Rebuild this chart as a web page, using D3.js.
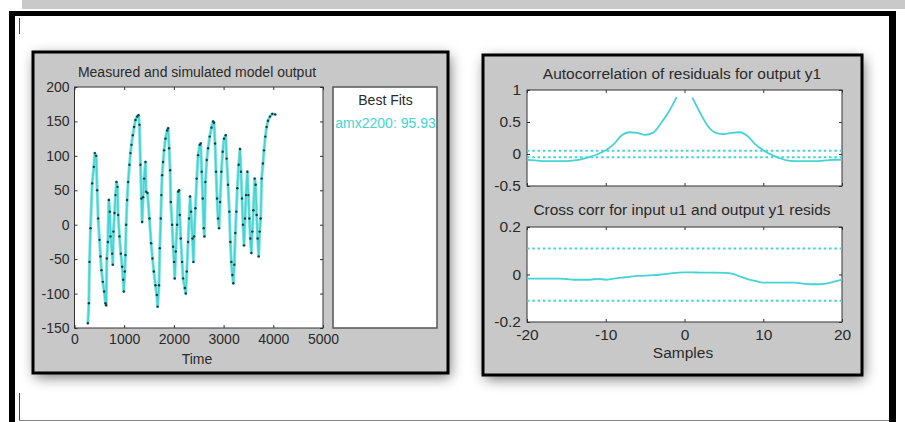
<!DOCTYPE html>
<html>
<head>
<meta charset="utf-8">
<script src="https://cdn.jsdelivr.net/npm/d3@7"></script>
<style>
  body { margin: 0; background: #fff; }
  svg { display: block; font-family: "Liberation Sans", Arial, Helvetica, sans-serif; }
</style>
</head>
<body>
<svg id="chart" width="905" height="422"></svg>
<script>
// ---- Data -------------------------------------------------------------
// Measured / simulated model output over time
const timeSamples = [
  269, 289, 302, 322, 356, 389, 409, 436, 456, 476, 503, 523, 543, 570, 597, 624, 637,
  651, 671, 691, 711, 724, 758, 771, 784, 805, 825, 845, 865, 878, 905, 932, 959, 979, 992,
  1012, 1026, 1039, 1059, 1079, 1106, 1126, 1146, 1173, 1200, 1227, 1260, 1287, 1307, 1327,
  1347, 1361, 1381, 1401, 1428, 1441, 1468, 1508, 1542, 1569, 1596, 1629, 1656, 1672, 1700,
  1716, 1736, 1749, 1763, 1783, 1803, 1830, 1864, 1884, 1904, 1924, 1937, 1964, 1984, 2004,
  2017, 2038, 2064, 2085, 2105, 2118, 2138, 2165, 2185, 2219, 2239, 2259, 2286, 2306, 2326,
  2346, 2373, 2393, 2407, 2433, 2460, 2487, 2520, 2540, 2560, 2581, 2601, 2614, 2634, 2661,
  2688, 2721, 2755, 2788, 2808, 2828, 2848, 2868, 2888, 2909, 2929, 2955, 2982, 3009, 3042,
  3062, 3089, 3116, 3136, 3156, 3176, 3196, 3216, 3236, 3256, 3276, 3303, 3330, 3350, 3370,
  3390, 3411, 3431, 3451, 3478, 3498, 3518, 3538, 3558, 3578, 3599, 3625, 3645, 3665, 3685,
  3706, 3726, 3746, 3766, 3792, 3813, 3840, 3866, 3893, 3933, 3980, 4040
];
const outputValues = [
  -143, -114, -54, -5, 60, 84, 104, 100, 50, 9, -22, -46, -66, -83, -97, -114, -117,
  -49, -25, 36, 19, -17, -42, -58, -10, 17, 43, 62, 55, 14, -17, -42, -61, -80, -97,
  -68, -44, 0, 36, 62, 87, 104, 116, 130, 142, 152, 157, 159, 145, 87,
  38, 4, 40, 67, 91, 48, 46, 9, -27, -49, -68, -88, -102, -119, -88,
  -34, 9, 43, 72, 91, 108, 125, 137, 140, 111, 79, 33, 0, -32, -54,
  -78, -39, 0, 48, 50, 14, -20, -54, -78, -92, -100, -68, -25, 9, 41,
  19, -20, -54, -17, 24, 67, 101, 116, 118, 77, 38, -5, -17, 62, 94,
  111, 128, 141, 150, 148, 118, 77, 38, 9, -5, 33, 77, 106, 125, 130,
  96, 58, 19, -25, -54, -73, -85, -58, -12, 19, 53, 87, 110, 77, 38,
  0, -30, 9, 43, 77, 43, 9, -20, -41, -10, 21, 67, 58, 14, -20,
  -46, -10, 9, 67, 89, 108, 128, 142, 151, 157, 161, 160
];
const timeTicks = [0, 1000, 2000, 3000, 4000, 5000];
const outputTicks = [-150, -100, -50, 0, 50, 100, 150, 200];
const fitLabel = "amx2200: 95.93";

// Residual correlation analysis, lags -20..20
const lags = d3.range(-20, 21);
const autoCorr = [
  -0.09, -0.10, -0.11, -0.11, -0.11, -0.11, -0.10, -0.08, -0.045, 0.0,
  0.06, 0.15, 0.29, 0.34, 0.33, 0.30, 0.33, 0.48, 0.66, 0.89,
  null,
  0.88, 0.64, 0.43, 0.33, 0.31, 0.33, 0.34, 0.28, 0.15, 0.06,
  -0.01, -0.06, -0.10, -0.11, -0.11, -0.11, -0.11, -0.10, -0.09, -0.09
];
const autoConf = 0.052;
const crossCorr = [
  -0.017, -0.017, -0.017, -0.017, -0.017, -0.019, -0.022, -0.022, -0.022, -0.018,
  -0.022, -0.017, -0.013, -0.01, -0.006, -0.005, -0.003, 0.0, 0.004, 0.007,
  0.009, 0.009, 0.008, 0.008, 0.008, 0.007, 0.004, -0.008, -0.019, -0.027,
  -0.034, -0.034, -0.034, -0.034, -0.034, -0.038, -0.041, -0.041, -0.038, -0.03, -0.022
];
const crossConf = 0.11;
const lagTicks = [-20, -10, 0, 10, 20];
const autoTicks = [-0.5, 0, 0.5, 1];
const crossTicks = [-0.2, 0, 0.2];

// ---- Drawing -----------------------------------------------------------
const svg = d3.select("#chart");
const cyan = "#45d3d3";
const panelGray = "#c8c8c8";
const textColor = "#2a2a2a";

const defs = svg.append("defs");
const shadow = defs.append("filter").attr("id", "panelShadow")
  .attr("x", "-20%").attr("y", "-20%").attr("width", "140%").attr("height", "140%");
shadow.append("feGaussianBlur").attr("stdDeviation", 7);

// Window frame
svg.append("rect").attr("x", 22).attr("y", 0).attr("width", 883).attr("height", 9).attr("fill", "#c9c9c9");
svg.append("rect").attr("x", 9).attr("y", 11).attr("width", 887).attr("height", 5).attr("fill", "#000");
svg.append("rect").attr("x", 9).attr("y", 11).attr("width", 6).attr("height", 411).attr("fill", "#000");
svg.append("rect").attr("x", 889).attr("y", 11).attr("width", 7).attr("height", 411).attr("fill", "#000");
svg.append("line").attr("x1", 19.5).attr("x2", 19.5).attr("y1", 18).attr("y2", 34).attr("stroke", "#444");
svg.append("line").attr("x1", 19.5).attr("x2", 19.5).attr("y1", 393).attr("y2", 421).attr("stroke", "#444");
svg.append("line").attr("x1", 19).attr("x2", 889).attr("y1", 420.5).attr("y2", 420.5).attr("stroke", "#888");

function panel(x, y, w, h) {
  svg.append("rect").attr("x", x + 2).attr("y", y + 4).attr("width", w).attr("height", h)
    .attr("fill", "#000").attr("opacity", 0.55).attr("filter", "url(#panelShadow)");
  svg.append("rect").attr("x", x).attr("y", y).attr("width", w).attr("height", h)
    .attr("fill", panelGray).attr("stroke", "#000").attr("stroke-width", 3);
}

// MATLAB-style axes: white box, inward ticks on all four sides
function axesBox(x, y, opts) {
  const [x0, x1] = x.range();
  const [y0, y1] = y.range(); // y0 bottom, y1 top
  const g = svg.append("g");
  g.append("rect").attr("x", x0).attr("y", y1).attr("width", x1 - x0).attr("height", y0 - y1)
    .attr("fill", "#fff");
  const fmt = d => String(d);
  const tl = 3;
  const left = g.append("g").attr("transform", `translate(${x0},0)`)
    .call(d3.axisLeft(y).tickValues(opts.yTicks).tickSize(-tl).tickPadding(opts.yPad).tickFormat(fmt));
  const right = g.append("g").attr("transform", `translate(${x1},0)`)
    .call(d3.axisRight(y).tickValues(opts.yTicks).tickSize(-tl).tickFormat(""));
  const top = g.append("g").attr("transform", `translate(0,${y1})`)
    .call(d3.axisTop(x).tickValues(opts.xTicks).tickSize(-tl).tickFormat(""));
  const bottom = g.append("g").attr("transform", `translate(0,${y0})`)
    .call(d3.axisBottom(x).tickValues(opts.xTicks).tickSize(-tl).tickPadding(opts.xPad)
      .tickFormat(opts.xLabels ? fmt : ""));
  [left, right, top, bottom].forEach(a => {
    a.select(".domain").remove();
    a.selectAll(".tick line").attr("stroke", "#333");
    a.selectAll("text").attr("fill", textColor).attr("font-size", opts.tickSize)
      .attr("font-family", null);
  });
  g.append("rect").attr("x", x0).attr("y", y1).attr("width", x1 - x0).attr("height", y0 - y1)
    .attr("fill", "none").attr("stroke", "#333").attr("stroke-width", 1);
  return g;
}

function text(str, x, y, size, color, anchor) {
  return svg.append("text").attr("x", x).attr("y", y).attr("font-size", size)
    .attr("fill", color || textColor).attr("text-anchor", anchor || "middle").text(str);
}

// ---- Left panel: measured and simulated output ----
panel(33, 52, 415, 321);
const xTime = d3.scaleLinear().domain([0, 5000]).range([74.5, 323]);
const yOut = d3.scaleLinear().domain([-150, 200]).range([328, 87]);
axesBox(xTime, yOut, { xTicks: timeTicks, yTicks: outputTicks, xLabels: true,
  tickSize: 14, xPad: 6, yPad: 5 });

const series = timeSamples.map((t, i) => ({ t, v: outputValues[i] }));
const outLine = d3.line().x(d => xTime(d.t)).y(d => yOut(d.v));
svg.append("path").datum(series).attr("d", outLine).attr("fill", "none")
  .attr("stroke", "#8fe6e6").attr("stroke-width", 3.2).attr("stroke-linejoin", "round");
svg.append("path").datum(series).attr("d", outLine).attr("fill", "none")
  .attr("stroke", cyan).attr("stroke-width", 1.6).attr("stroke-linejoin", "round");
svg.append("g").selectAll("circle").data(series).join("circle")
  .attr("cx", d => xTime(d.t)).attr("cy", d => yOut(d.v)).attr("r", 1.2).attr("fill", "#1a3a3a");

text("Measured and simulated model output", 197, 77, 14);
text("Time", 197, 364, 14);

// Legend box
svg.append("rect").attr("x", 333).attr("y", 87).attr("width", 104).attr("height", 241)
  .attr("fill", "#fff").attr("stroke", "#555").attr("stroke-width", 1.5);
text("Best Fits", 385.5, 105, 14);
text(fitLabel, 385.5, 128, 14, cyan);

// ---- Right panel: residual analysis ----
panel(483, 55, 379, 320);
const xLag = d3.scaleLinear().domain([-20, 20]).range([527, 842]);

const yAuto = d3.scaleLinear().domain([-0.5, 1]).range([186, 90]);
axesBox(xLag, yAuto, { xTicks: lagTicks, yTicks: autoTicks, xLabels: false,
  tickSize: 15.5, xPad: 6, yPad: 6 });
const autoPts = lags.map((l, i) => ({ l, v: autoCorr[i] }));
const lagLineA = d3.line().defined(d => d.v !== null).x(d => xLag(d.l)).y(d => yAuto(d.v))
  .curve(d3.curveMonotoneX);
svg.append("path").datum(autoPts).attr("d", lagLineA).attr("fill", "none")
  .attr("stroke", cyan).attr("stroke-width", 1.8);
[autoConf, -autoConf].forEach(c => {
  svg.append("line").attr("x1", xLag(-20)).attr("x2", xLag(20))
    .attr("y1", yAuto(c)).attr("y2", yAuto(c))
    .attr("stroke", cyan).attr("stroke-width", 2).attr("stroke-dasharray", "2.5,2.8");
});
text("Autocorrelation of residuals for output y1", 682, 79, 15.5);

const yCross = d3.scaleLinear().domain([-0.2, 0.2]).range([322, 227]);
axesBox(xLag, yCross, { xTicks: lagTicks, yTicks: crossTicks, xLabels: true,
  tickSize: 15.5, xPad: 7, yPad: 6 });
const crossPts = lags.map((l, i) => ({ l, v: crossCorr[i] }));
const lagLineC = d3.line().x(d => xLag(d.l)).y(d => yCross(d.v)).curve(d3.curveMonotoneX);
svg.append("path").datum(crossPts).attr("d", lagLineC).attr("fill", "none")
  .attr("stroke", cyan).attr("stroke-width", 1.8);
[crossConf, -crossConf].forEach(c => {
  svg.append("line").attr("x1", xLag(-20)).attr("x2", xLag(20))
    .attr("y1", yCross(c)).attr("y2", yCross(c))
    .attr("stroke", cyan).attr("stroke-width", 2).attr("stroke-dasharray", "2.5,2.8");
});
text("Cross corr for input u1 and output y1 resids", 682, 215, 15.5);
text("Samples", 683, 358, 15.5);
</script>
</body>
</html>
